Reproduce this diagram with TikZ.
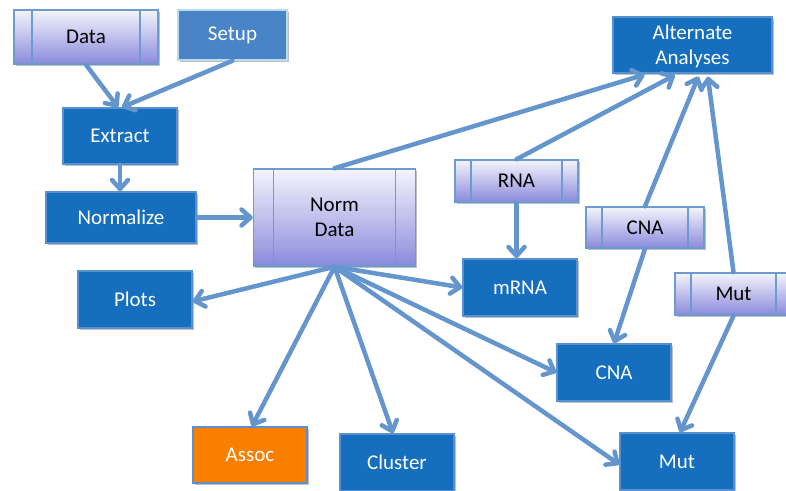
\documentclass[tikz,border=0pt]{standalone}
\usepackage{fontspec}
\setmainfont{Carlito}
\usetikzlibrary{arrows.meta,shadows}

\definecolor{boxblue}{RGB}{22,111,190}
\definecolor{boxedge}{RGB}{88,145,205}
\definecolor{setupblue}{RGB}{72,132,198}
\definecolor{setupedge}{RGB}{185,220,235}
\definecolor{assocorange}{RGB}{249,127,0}
\definecolor{lavtop}{RGB}{244,244,252}
\definecolor{lavbot}{RGB}{138,138,220}
\definecolor{lavedge}{RGB}{108,155,210}
\definecolor{flow}{RGB}{100,150,205}

\tikzset{
  boxbase/.style={rectangle, inner sep=0pt, line width=1.5pt,
    font=\fontsize{21}{25}\selectfont, align=center,
    drop shadow={shadow xshift=1.5pt, shadow yshift=-2pt, opacity=0.25, fill=black}},
  task/.style={boxbase, draw=boxedge, fill=boxblue, text=white},
  setupbox/.style={boxbase, draw=setupedge, fill=setupblue, text=white},
  assocbox/.style={boxbase, draw=boxedge, fill=assocorange, text=white},
  store/.style={boxbase, draw=lavedge, top color=lavtop, bottom color=lavbot, text=black,
    path picture={
      \draw[lavedge, line width=1.5pt]
        ([xshift=#1]path picture bounding box.north west) -- ([xshift=#1]path picture bounding box.south west)
        ([xshift=-#1]path picture bounding box.north east) -- ([xshift=-#1]path picture bounding box.south east);
    }},
  store/.default=16,
  flowarrow/.style={draw=flow, line width=4.5pt, line cap=round,
    -{Straight Barb[length=9pt, width=16pt, round]}}
}

\begin{document}
\begin{tikzpicture}[x=1pt, y=-1pt]
\useasboundingbox (0,0) rectangle (786,490);

% input stores
\node[store=18, minimum width=144, minimum height=54] (data) at (86,37) {Data};
\node[setupbox, minimum width=109, minimum height=50] (setup) at (232.5,35) {Setup};

% preprocessing chain
\node[task, minimum width=114, minimum height=56] (extract) at (120,136) {Extract};
\node[task, minimum width=150, minimum height=51] (normalize) at (121,217.5) {Normalize};
\node[store=20, minimum width=162, minimum height=97, text depth=0pt] (norm) at (334.5,217.5) {Norm\\Data};

% downstream results
\node[task, minimum width=159, minimum height=56, text depth=0pt] (alt) at (692.5,45) {Alternate\\Analyses};
\node[store, minimum width=123, minimum height=42] (rna) at (516.5,181) {RNA};
\node[task, minimum width=114, minimum height=57] (mrna) at (520,287.5) {mRNA};
\node[store, minimum width=118, minimum height=41] (cnain) at (645,227.5) {CNA};
\node[store, minimum width=117, minimum height=42] (mutin) at (733.5,294) {Mut};
\node[task, minimum width=114, minimum height=57] (plots) at (135,299.5) {Plots};
\node[task, minimum width=114, minimum height=57] (cna) at (614,372.5) {CNA};
\node[assocbox, minimum width=114, minimum height=56] (assoc) at (250,455) {Assoc};
\node[task, minimum width=114, minimum height=57] (cluster) at (397,462.5) {Cluster};
\node[task, minimum width=114, minimum height=57] (mut) at (677,461.5) {Mut};

% connectors
\draw[flowarrow] (data.south) -- ([xshift=-2pt]extract.north);
\draw[flowarrow] (setup.south) -- ([xshift=2pt]extract.north);
\draw[flowarrow] (extract.south) -- (extract.south |- normalize.north);
\draw[flowarrow] (normalize.east) -- (norm.west);

\draw[flowarrow, shorten >=3pt] (norm.north) -- ([xshift=-45pt]alt.south);
\draw[flowarrow, shorten >=3pt] (rna.north) -- ([xshift=-15pt]alt.south);
\draw[flowarrow, shorten >=3pt] (cnain.north) -- ([xshift=7pt]alt.south);
\draw[flowarrow, shorten >=3pt] (mutin.north) -- ([xshift=15pt]alt.south);

\draw[flowarrow] (rna.south) -- (rna.south |- mrna.north);
\draw[flowarrow] (cnain.south) -- (cna.north);
\draw[flowarrow] (mutin.south) -- ([xshift=3pt]mut.north);

\draw[flowarrow] (norm.south) -- ([yshift=-2pt]plots.east);
\draw[flowarrow] (norm.south) -- (mrna.west);
\draw[flowarrow] (norm.south) -- (cna.west);
\draw[flowarrow] (norm.south) -- ([yshift=-3pt]mut.west);
\draw[flowarrow] (norm.south) -- ([xshift=2pt]assoc.north);
\draw[flowarrow] (norm.south) -- ([xshift=-4pt]cluster.north);
\end{tikzpicture}
\end{document}
